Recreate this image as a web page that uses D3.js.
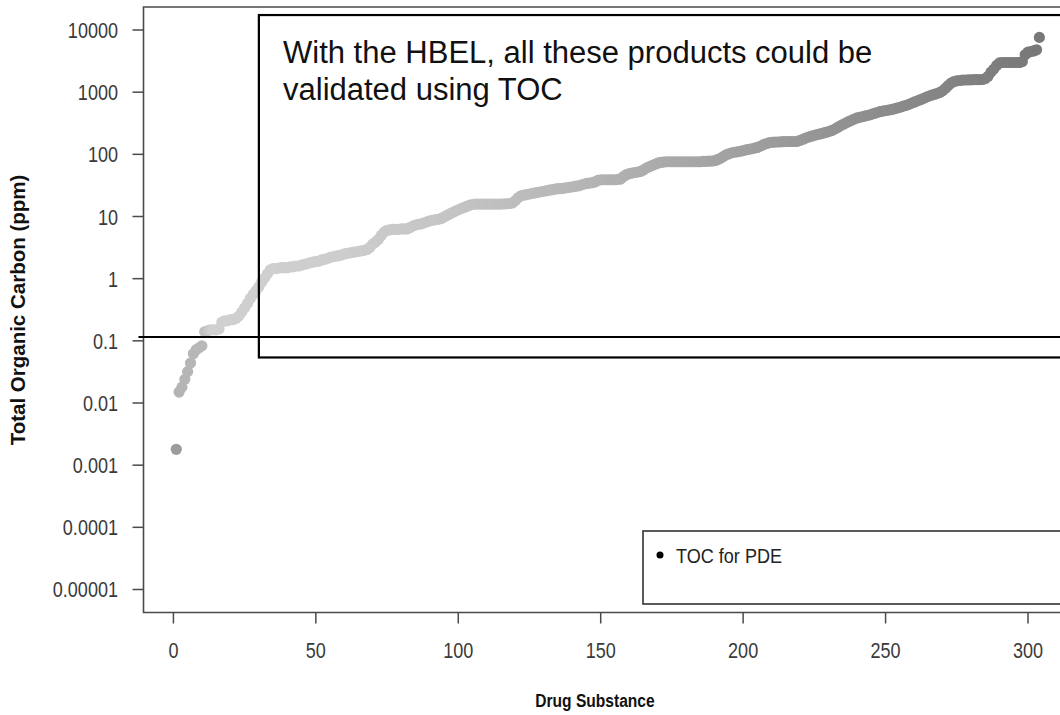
<!DOCTYPE html>
<html>
<head>
<meta charset="utf-8">
<script src="https://cdn.jsdelivr.net/npm/d3@7"></script>
<style>
  body { margin: 0; background: #fff; }
  svg { display: block; }
  .tick-lab { font-family: "Liberation Sans", Arial, sans-serif; fill: #3a3a3a; }
  .title { font-family: "Liberation Sans", Arial, sans-serif; font-weight: bold; fill: #111; }
</style>
</head>
<body>
<svg id="chart" width="1060" height="715"></svg>
<script>
// TOC (ppm) for each drug substance, sorted ascending (index 1..N)
var tocValues = [
  0.0018, 0.015, 0.018, 0.024, 0.032, 0.044, 0.062, 0.072, 0.077, 0.083,
  0.14, 0.145, 0.15, 0.15, 0.15, 0.155, 0.2, 0.21, 0.21, 0.22,
  0.22, 0.23, 0.25, 0.29, 0.34, 0.4, 0.48, 0.56, 0.64, 0.74,
  0.88, 1.02, 1.2, 1.38, 1.45, 1.45, 1.48, 1.5, 1.5, 1.5,
  1.55, 1.55, 1.6, 1.6, 1.65, 1.7, 1.75, 1.8, 1.85, 1.9,
  1.9, 2.0, 2.05, 2.1, 2.2, 2.25, 2.3, 2.35, 2.4, 2.5,
  2.55, 2.6, 2.65, 2.7, 2.75, 2.8, 2.85, 2.95, 3.2, 3.6,
  3.9, 4.3, 5.0, 5.6, 6.0, 6.1, 6.2, 6.2, 6.2, 6.3,
  6.3, 6.3, 6.6, 7.0, 7.3, 7.5, 7.6, 7.9, 8.2, 8.5,
  8.7, 8.9, 9.0, 9.3, 9.8, 10.4, 11, 11.6, 12.2, 12.8,
  13.4, 14, 14.6, 15.2, 15.6, 15.8, 15.8, 15.8, 15.8, 15.8,
  15.8, 15.8, 15.8, 15.8, 15.8, 16, 16, 16.2, 16.5, 18,
  20, 21.5, 22, 22.5, 23, 23.5, 24, 24.5, 25, 25.5,
  26, 26.5, 27, 27.5, 28, 28, 28.5, 29, 29.5, 30,
  30.5, 31, 32, 33, 34, 34.5, 35, 36, 38, 39,
  39, 39, 39, 39, 39, 39.5, 40, 44, 47, 49,
  50, 51, 52, 53, 56, 60, 63, 66, 69, 72,
  74, 75, 76, 76, 76, 76, 76, 76, 76, 76,
  76, 76, 76, 76, 76, 77, 77, 78, 78, 79,
  82, 86, 92, 98, 102, 106, 108, 110, 112, 115,
  118, 120, 123, 126, 129, 135, 142, 148, 153, 156,
  157, 158, 159, 160, 160, 161, 161, 161, 162, 168,
  175, 183, 190, 196, 202, 208, 213, 219, 225, 232,
  240, 252, 268, 285, 302, 318, 335, 352, 370, 385,
  395, 405, 415, 425, 440, 455, 470, 485, 495, 505,
  515, 525, 540, 555, 570, 590, 610, 630, 660, 690,
  720, 750, 780, 820, 860, 890, 920, 950, 990, 1050,
  1150, 1280, 1400, 1480, 1520, 1540, 1560, 1570, 1580, 1580,
  1590, 1590, 1590, 1600, 1650, 1800, 2100, 2350, 2700, 2950,
  3000, 3000, 3000, 3000, 3000, 3000, 3000, 3100, 4000, 4400,
  4500, 4600, 4800, 7600
];
var xTicks = [0, 50, 100, 150, 200, 250, 300];
var yTicks = [10000, 1000, 100, 10, 1, 0.1, 0.01, 0.001, 0.0001, 0.00001];
var yTickLabels = ["10000", "1000", "100", "10", "1", "0.1", "0.01", "0.001", "0.0001", "0.00001"];
var hbelLine = 0.115;
var noteLines = ["With the HBEL, all these products could be", "validated using TOC"];
var legendLabel = "TOC for PDE";

var data = tocValues.map(function (v, i) { return { idx: i + 1, toc: v }; });

const svg = d3.select("#chart");
const plot = { left: 143.5, top: 7, bottom: 612.5, right: 1075 };
const narrow = 0.82; // squeeze to mimic Arial Narrow

var x = d3.scaleLinear().domain([-10.5, 316.5]).range([plot.left, plot.right]);
var y = d3.scaleLog().domain([Math.pow(10, -5.37), Math.pow(10, 4.37)]).range([plot.bottom, plot.top]);

// grey shade along the sorted series
var shade = d3.scaleLinear()
    .domain([1, 2, 10, 14, 60, 100, 150, 200, 250, 304])
    .range(["#9c9c9c", "#b4b4b4", "#b8b8b8", "#d0d0d0", "#cdcdcd", "#c4c4c4", "#b3b3b3", "#a0a0a0", "#8c8c8c", "#787878"]);

// points
svg.append("g")
  .selectAll("circle")
  .data(data)
  .enter()
  .append("circle")
  .attr("cx", d => x(d.idx))
  .attr("cy", d => y(d.toc))
  .attr("r", 5.6)
  .attr("fill", d => shade(d.idx));

// plot frame
svg.append("path")
  .attr("d", `M${plot.right},${plot.top}H${plot.left}V${plot.bottom}H${plot.right}`)
  .attr("fill", "none")
  .attr("stroke", "#4a4a4a")
  .attr("stroke-width", 1.6);

// x axis ticks + labels
var xAxis = svg.append("g");
xAxis.selectAll("line").data(xTicks).enter().append("line")
  .attr("x1", d => x(d)).attr("x2", d => x(d))
  .attr("y1", plot.bottom).attr("y2", plot.bottom + 11)
  .attr("stroke", "#4a4a4a").attr("stroke-width", 1.5);
xAxis.selectAll("text").data(xTicks).enter().append("text")
  .attr("class", "tick-lab")
  .attr("transform", d => `translate(${x(d)},658) scale(${narrow},1)`)
  .attr("text-anchor", "middle")
  .style("font-size", "22px")
  .text(d => d);

// y axis ticks + labels
var yAxis = svg.append("g");
yAxis.selectAll("line").data(yTicks).enter().append("line")
  .attr("x1", plot.left - 11).attr("x2", plot.left)
  .attr("y1", d => y(d)).attr("y2", d => y(d))
  .attr("stroke", "#4a4a4a").attr("stroke-width", 1.5);
yAxis.selectAll("text").data(yTicks).enter().append("text")
  .attr("class", "tick-lab")
  .attr("transform", d => `translate(118,${y(d) + 8}) scale(${narrow},1)`)
  .attr("text-anchor", "end")
  .style("font-size", "22px")
  .text((d, i) => yTickLabels[i]);

// axis titles
svg.append("text")
  .attr("class", "title")
  .attr("transform", `translate(595,707) scale(${narrow},1)`)
  .attr("text-anchor", "middle")
  .style("font-size", "19px")
  .text("Drug Substance");

svg.append("text")
  .attr("class", "title")
  .attr("transform", "translate(25,310) rotate(-90)")
  .attr("text-anchor", "middle")
  .style("font-size", "20.5px")
  .text("Total Organic Carbon (ppm)");

// HBEL threshold line
svg.append("line")
  .attr("x1", plot.left - 5).attr("x2", plot.right)
  .attr("y1", y(hbelLine)).attr("y2", y(hbelLine))
  .attr("stroke", "#000").attr("stroke-width", 2);

// annotation box
var boxX = 30, boxTop = 17400, boxBottom = 0.054;
svg.append("rect")
  .attr("x", x(boxX)).attr("y", y(boxTop))
  .attr("width", plot.right - x(boxX))
  .attr("height", y(boxBottom) - y(boxTop))
  .attr("fill", "none")
  .attr("stroke", "#000").attr("stroke-width", 2.2);

svg.append("g").selectAll("text")
  .data(noteLines).enter().append("text")
  .attr("x", 283).attr("y", (d, i) => 63 + i * 37)
  .style("font-family", "'Liberation Sans', Arial, sans-serif")
  .style("font-size", "31px")
  .attr("fill", "#111")
  .text(d => d);

// legend
var legend = svg.append("g");
legend.append("rect")
  .attr("x", 643).attr("y", 531)
  .attr("width", 440).attr("height", 73)
  .attr("fill", "#fff")
  .attr("stroke", "#333").attr("stroke-width", 1.6);
legend.append("circle")
  .attr("cx", 660).attr("cy", 555).attr("r", 3.5)
  .attr("fill", "#000");
legend.append("text")
  .attr("class", "tick-lab")
  .attr("transform", `translate(676,563) scale(0.86,1)`)
  .style("font-size", "21px")
  .style("fill", "#222")
  .text(legendLabel);
</script>
</body>
</html>
